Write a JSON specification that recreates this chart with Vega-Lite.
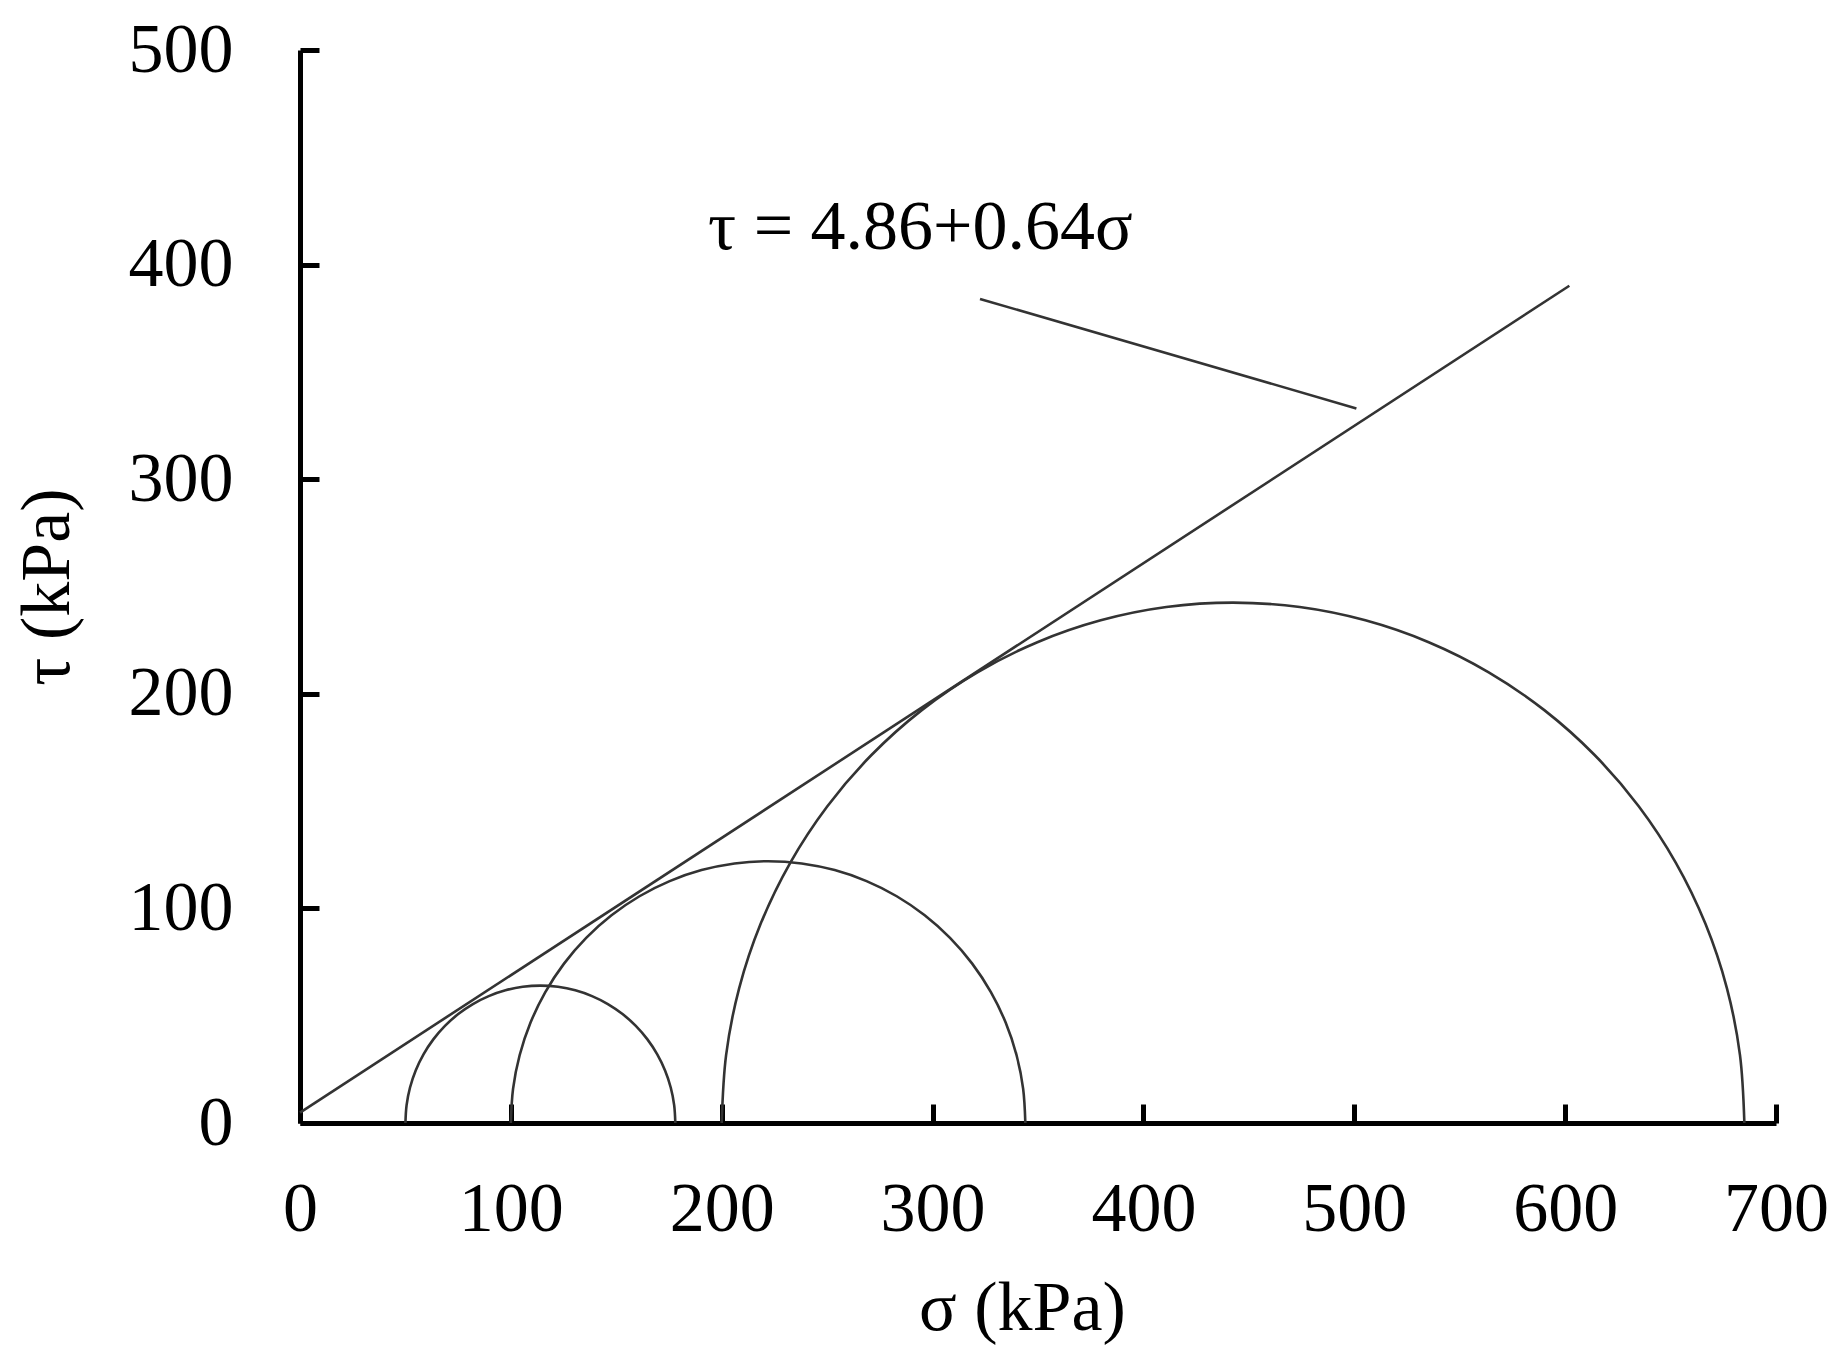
{
  "$schema": "https://vega.github.io/schema/vega-lite/v6.json",
  "autosize": "none",
  "width": 1476,
  "height": 1073,
  "padding": {"left": 300, "top": 50, "right": 67, "bottom": 240},
  "background": "white",
  "config": {
    "view": {"stroke": null},
    "font": "Liberation Serif",
    "axis": {
      "grid": false,
      "domainColor": "black",
      "domainWidth": 5,
      "tickColor": "black",
      "tickWidth": 5,
      "tickSize": -19,
      "labelFont": "Liberation Serif",
      "labelFontSize": 70,
      "labelColor": "black",
      "titleFont": "Liberation Serif",
      "titleFontSize": 70,
      "titleFontWeight": "normal",
      "titleColor": "black"
    }
  },
  "datasets": {
    "curves": [
      {"series": "c1", "order": 0, "sigma": 50, "tau": 0},
      {"series": "c1", "order": 1, "sigma": 50.55, "tau": 8.35},
      {"series": "c1", "order": 2, "sigma": 52.18, "tau": 16.56},
      {"series": "c1", "order": 3, "sigma": 54.87, "tau": 24.49},
      {"series": "c1", "order": 4, "sigma": 58.57, "tau": 32},
      {"series": "c1", "order": 5, "sigma": 63.23, "tau": 38.96},
      {"series": "c1", "order": 6, "sigma": 68.74, "tau": 45.26},
      {"series": "c1", "order": 7, "sigma": 75.04, "tau": 50.77},
      {"series": "c1", "order": 8, "sigma": 82, "tau": 55.43},
      {"series": "c1", "order": 9, "sigma": 89.51, "tau": 59.13},
      {"series": "c1", "order": 10, "sigma": 97.44, "tau": 61.82},
      {"series": "c1", "order": 11, "sigma": 105.65, "tau": 63.45},
      {"series": "c1", "order": 12, "sigma": 114, "tau": 64},
      {"series": "c1", "order": 13, "sigma": 122.35, "tau": 63.45},
      {"series": "c1", "order": 14, "sigma": 130.56, "tau": 61.82},
      {"series": "c1", "order": 15, "sigma": 138.49, "tau": 59.13},
      {"series": "c1", "order": 16, "sigma": 146, "tau": 55.43},
      {"series": "c1", "order": 17, "sigma": 152.96, "tau": 50.77},
      {"series": "c1", "order": 18, "sigma": 159.26, "tau": 45.26},
      {"series": "c1", "order": 19, "sigma": 164.77, "tau": 38.96},
      {"series": "c1", "order": 20, "sigma": 169.43, "tau": 32},
      {"series": "c1", "order": 21, "sigma": 173.13, "tau": 24.49},
      {"series": "c1", "order": 22, "sigma": 175.82, "tau": 16.56},
      {"series": "c1", "order": 23, "sigma": 177.45, "tau": 8.35},
      {"series": "c1", "order": 24, "sigma": 178, "tau": 0},

      {"series": "c2", "order": 0, "sigma": 100, "tau": 0},
      {"series": "c2", "order": 1, "sigma": 101.04, "tau": 15.93},
      {"series": "c2", "order": 2, "sigma": 104.16, "tau": 31.58},
      {"series": "c2", "order": 3, "sigma": 109.29, "tau": 46.69},
      {"series": "c2", "order": 4, "sigma": 116.34, "tau": 61},
      {"series": "c2", "order": 5, "sigma": 125.21, "tau": 74.27},
      {"series": "c2", "order": 6, "sigma": 135.73, "tau": 86.27},
      {"series": "c2", "order": 7, "sigma": 147.73, "tau": 96.79},
      {"series": "c2", "order": 8, "sigma": 161, "tau": 105.66},
      {"series": "c2", "order": 9, "sigma": 175.31, "tau": 112.71},
      {"series": "c2", "order": 10, "sigma": 190.42, "tau": 117.84},
      {"series": "c2", "order": 11, "sigma": 206.08, "tau": 120.96},
      {"series": "c2", "order": 12, "sigma": 222, "tau": 122},
      {"series": "c2", "order": 13, "sigma": 237.93, "tau": 120.96},
      {"series": "c2", "order": 14, "sigma": 253.58, "tau": 117.84},
      {"series": "c2", "order": 15, "sigma": 268.69, "tau": 112.71},
      {"series": "c2", "order": 16, "sigma": 283, "tau": 105.66},
      {"series": "c2", "order": 17, "sigma": 296.27, "tau": 96.79},
      {"series": "c2", "order": 18, "sigma": 308.27, "tau": 86.27},
      {"series": "c2", "order": 19, "sigma": 318.79, "tau": 74.27},
      {"series": "c2", "order": 20, "sigma": 327.66, "tau": 61},
      {"series": "c2", "order": 21, "sigma": 334.71, "tau": 46.69},
      {"series": "c2", "order": 22, "sigma": 339.84, "tau": 31.58},
      {"series": "c2", "order": 23, "sigma": 342.96, "tau": 15.93},
      {"series": "c2", "order": 24, "sigma": 344, "tau": 0},

      {"series": "c3", "order": 0, "sigma": 200, "tau": 0},
      {"series": "c3", "order": 1, "sigma": 202.08, "tau": 31.65},
      {"series": "c3", "order": 2, "sigma": 208.26, "tau": 62.76},
      {"series": "c3", "order": 3, "sigma": 218.46, "tau": 92.8},
      {"series": "c3", "order": 4, "sigma": 232.49, "tau": 121.25},
      {"series": "c3", "order": 5, "sigma": 250.11, "tau": 147.62},
      {"series": "c3", "order": 6, "sigma": 271.03, "tau": 171.47},
      {"series": "c3", "order": 7, "sigma": 294.88, "tau": 192.39},
      {"series": "c3", "order": 8, "sigma": 321.25, "tau": 210.01},
      {"series": "c3", "order": 9, "sigma": 349.7, "tau": 224.04},
      {"series": "c3", "order": 10, "sigma": 379.74, "tau": 234.24},
      {"series": "c3", "order": 11, "sigma": 410.85, "tau": 240.42},
      {"series": "c3", "order": 12, "sigma": 442.5, "tau": 242.5},
      {"series": "c3", "order": 13, "sigma": 474.15, "tau": 240.42},
      {"series": "c3", "order": 14, "sigma": 505.26, "tau": 234.24},
      {"series": "c3", "order": 15, "sigma": 535.3, "tau": 224.04},
      {"series": "c3", "order": 16, "sigma": 563.75, "tau": 210.01},
      {"series": "c3", "order": 17, "sigma": 590.12, "tau": 192.39},
      {"series": "c3", "order": 18, "sigma": 613.97, "tau": 171.47},
      {"series": "c3", "order": 19, "sigma": 634.89, "tau": 147.62},
      {"series": "c3", "order": 20, "sigma": 652.51, "tau": 121.25},
      {"series": "c3", "order": 21, "sigma": 666.54, "tau": 92.8},
      {"series": "c3", "order": 22, "sigma": 676.74, "tau": 62.76},
      {"series": "c3", "order": 23, "sigma": 682.92, "tau": 31.65},
      {"series": "c3", "order": 24, "sigma": 685, "tau": 0},

      {"series": "envelope", "order": 0, "sigma": 0, "tau": 4.86},
      {"series": "envelope", "order": 1, "sigma": 602, "tau": 390.14},

      {"series": "leader", "order": 0, "sigma": 322.5, "tau": 384},
      {"series": "leader", "order": 1, "sigma": 501, "tau": 333}
    ],
    "labels": [
      {"sigma": 193.5, "tau": 407.3, "text": "τ = 4.86+0.64σ"}
    ]
  },
  "layer": [
    {
      "data": {"name": "curves"},
      "mark": {"type": "line", "stroke": "#333333", "strokeWidth": 2.6, "clip": false, "interpolate": "catmull-rom"},
      "encoding": {
        "x": {
          "field": "sigma",
          "type": "quantitative",
          "scale": {"domain": [0, 700], "nice": false, "zero": true},
          "axis": {
            "title": "σ (kPa)",
            "values": [0, 100, 200, 300, 400, 500, 600, 700],
            "labelPadding": 71,
            "titlePadding": 30,
            "titleX": 722,
            "labelFlush": false
          }
        },
        "y": {
          "field": "tau",
          "type": "quantitative",
          "scale": {"domain": [0, 500], "nice": false},
          "axis": {
            "title": "τ (kPa)",
            "values": [0, 100, 200, 300, 400, 500],
            "labelPadding": 86,
            "titlePadding": 45,
            "labelFlush": false
          }
        },
        "detail": {"field": "series"},
        "order": {"field": "order"}
      }
    },
    {
      "data": {"name": "labels"},
      "mark": {"type": "text", "font": "Liberation Serif", "fontSize": 70, "align": "left", "baseline": "alphabetic", "color": "black"},
      "encoding": {
        "x": {"field": "sigma", "type": "quantitative"},
        "y": {"field": "tau", "type": "quantitative"},
        "text": {"field": "text"}
      }
    }
  ]
}
